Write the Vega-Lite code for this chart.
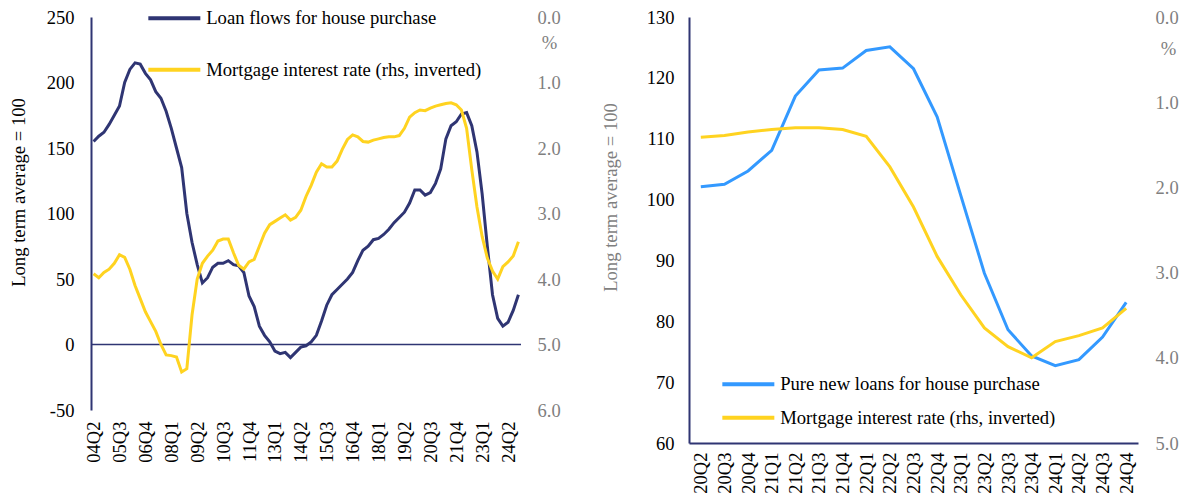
{
  "$schema": "https://vega.github.io/schema/vega-lite/v6.json",
  "padding": {"left": 9, "top": 8, "right": 0, "bottom": 0},
  "background": "white",
  "config": {
    "view": {"stroke": null},
    "font": "Liberation Serif",
    "axis": {"labelFont": "Liberation Serif", "titleFont": "Liberation Serif", "labelFontSize": 18.5, "titleFontSize": 18.67, "titleFontWeight": "normal", "grid": false, "ticks": false, "domain": false, "labelColor": "#000000", "titleColor": "#000000"},
    "legend": {"labelFont": "Liberation Serif", "labelFontSize": 18.67, "labelColor": "#000000", "labelLimit": 600}
  },
  "datasets": {
    "left": [
      {"q":"04Q2","loan":155,"rate":3.92},{"q":"04Q3","loan":159,"rate":3.98},{"q":"04Q4","loan":162,"rate":3.90},{"q":"05Q1","loan":168,"rate":3.85},{"q":"05Q2","loan":175,"rate":3.76},
      {"q":"05Q3","loan":182,"rate":3.63},{"q":"05Q4","loan":200,"rate":3.67},{"q":"06Q1","loan":210,"rate":3.85},{"q":"06Q2","loan":215,"rate":4.10},{"q":"06Q3","loan":214,"rate":4.30},
      {"q":"06Q4","loan":207,"rate":4.50},{"q":"07Q1","loan":202,"rate":4.65},{"q":"07Q2","loan":193,"rate":4.80},{"q":"07Q3","loan":188,"rate":5.00},{"q":"07Q4","loan":178,"rate":5.16},
      {"q":"08Q1","loan":165,"rate":5.17},{"q":"08Q2","loan":150,"rate":5.19},{"q":"08Q3","loan":135,"rate":5.42},{"q":"08Q4","loan":100,"rate":5.37},{"q":"09Q1","loan":78,"rate":4.55},
      {"q":"09Q2","loan":61,"rate":4.00},{"q":"09Q3","loan":47,"rate":3.76},{"q":"09Q4","loan":51,"rate":3.65},{"q":"10Q1","loan":59,"rate":3.56},{"q":"10Q2","loan":62,"rate":3.42},
      {"q":"10Q3","loan":62,"rate":3.39},{"q":"10Q4","loan":64,"rate":3.39},{"q":"11Q1","loan":61,"rate":3.60},{"q":"11Q2","loan":60,"rate":3.79},{"q":"11Q3","loan":55,"rate":3.85},
      {"q":"11Q4","loan":37,"rate":3.74},{"q":"12Q1","loan":29,"rate":3.70},{"q":"12Q2","loan":14,"rate":3.50},{"q":"12Q3","loan":7,"rate":3.30},{"q":"12Q4","loan":2,"rate":3.17},
      {"q":"13Q1","loan":-5,"rate":3.12},{"q":"13Q2","loan":-7,"rate":3.07},{"q":"13Q3","loan":-6,"rate":3.02},{"q":"13Q4","loan":-10,"rate":3.10},{"q":"14Q1","loan":-6,"rate":3.06},
      {"q":"14Q2","loan":-2,"rate":2.95},{"q":"14Q3","loan":-1,"rate":2.74},{"q":"14Q4","loan":2,"rate":2.57},{"q":"15Q1","loan":7,"rate":2.37},{"q":"15Q2","loan":18,"rate":2.24},
      {"q":"15Q3","loan":30,"rate":2.29},{"q":"15Q4","loan":38,"rate":2.29},{"q":"16Q1","loan":42,"rate":2.20},{"q":"16Q2","loan":46,"rate":2.02},{"q":"16Q3","loan":50,"rate":1.87},
      {"q":"16Q4","loan":55,"rate":1.80},{"q":"17Q1","loan":64,"rate":1.83},{"q":"17Q2","loan":72,"rate":1.90},{"q":"17Q3","loan":75,"rate":1.91},{"q":"17Q4","loan":80,"rate":1.88},
      {"q":"18Q1","loan":81,"rate":1.86},{"q":"18Q2","loan":84,"rate":1.84},{"q":"18Q3","loan":88,"rate":1.83},{"q":"18Q4","loan":93,"rate":1.83},{"q":"19Q1","loan":97,"rate":1.81},
      {"q":"19Q2","loan":101,"rate":1.70},{"q":"19Q3","loan":108,"rate":1.53},{"q":"19Q4","loan":118,"rate":1.46},{"q":"20Q1","loan":118,"rate":1.42},{"q":"20Q2","loan":114,"rate":1.43},
      {"q":"20Q3","loan":116,"rate":1.39},{"q":"20Q4","loan":123,"rate":1.36},{"q":"21Q1","loan":134,"rate":1.34},{"q":"21Q2","loan":157,"rate":1.32},{"q":"21Q3","loan":167,"rate":1.31},
      {"q":"21Q4","loan":170,"rate":1.34},{"q":"22Q1","loan":176,"rate":1.42},{"q":"22Q2","loan":177,"rate":1.70},{"q":"22Q3","loan":167,"rate":2.33},{"q":"22Q4","loan":147,"rate":2.90},
      {"q":"23Q1","loan":115,"rate":3.35},{"q":"23Q2","loan":75,"rate":3.68},{"q":"23Q3","loan":38,"rate":3.88},{"q":"23Q4","loan":20,"rate":4.00},{"q":"24Q1","loan":14,"rate":3.81},
      {"q":"24Q2","loan":17,"rate":3.74},{"q":"24Q3","loan":26,"rate":3.65},{"q":"24Q4","loan":38,"rate":3.43}
    ],
    "right": [
      {"q":"20Q2","loans":102.1,"rate":1.41},{"q":"20Q3","loans":102.5,"rate":1.39},{"q":"20Q4","loans":104.7,"rate":1.35},{"q":"21Q1","loans":108.1,"rate":1.32},
      {"q":"21Q2","loans":117.0,"rate":1.30},{"q":"21Q3","loans":121.3,"rate":1.30},{"q":"21Q4","loans":121.6,"rate":1.32},{"q":"22Q1","loans":124.5,"rate":1.40},
      {"q":"22Q2","loans":125.1,"rate":1.76},{"q":"22Q3","loans":121.5,"rate":2.23},{"q":"22Q4","loans":113.6,"rate":2.81},{"q":"23Q1","loans":100.7,"rate":3.26},
      {"q":"23Q2","loans":87.9,"rate":3.65},{"q":"23Q3","loans":78.6,"rate":3.87},{"q":"23Q4","loans":74.3,"rate":4.00},{"q":"24Q1","loans":72.7,"rate":3.81},
      {"q":"24Q2","loans":73.7,"rate":3.74},{"q":"24Q3","loans":77.4,"rate":3.65},{"q":"24Q4","loans":83.1,"rate":3.42}
    ]
  },
  "spacing": 40,
  "resolve": {"scale": {"color": "independent"}, "legend": {"color": "independent"}},
  "hconcat": [
    {
      "width": 430,
      "height": 393,
      "data": {"name": "left"},
      "layer": [
        {
          "layer": [
            {
              "data": {"values": [{"v": 0}]},
              "mark": {"type": "rule", "color": "#2f3573", "strokeWidth": 1.5},
              "encoding": {"y": {"field": "v", "type": "quantitative"}}
            },
            {
              "mark": {"type": "line", "strokeWidth": 3},
              "encoding": {
                "x": {"field": "q", "type": "ordinal", "sort": null, "scale": {"type": "point", "padding": 0.5},
                      "axis": {"title": null, "values": ["04Q2","05Q3","06Q4","08Q1","09Q2","10Q3","11Q4","13Q1","14Q2","15Q3","16Q4","18Q1","19Q2","20Q3","21Q4","23Q1","24Q2"], "labelAngle": -90, "labelPadding": 11}},
                "y": {"field": "loan", "type": "quantitative", "scale": {"domain": [-50, 250], "nice": false, "zero": false},
                      "axis": {"title": "Long term average = 100", "values": [-50, 0, 50, 100, 150, 200, 250], "labelExpr": "'' + datum.value", "labelPadding": 17, "domain": true, "domainColor": "#2f3573", "domainWidth": 2, "titleAngle": -90, "titleX": -73, "titleY": 175, "titleAlign": "center", "titleBaseline": "middle"}},
                "color": {"datum": "Loan flows for house purchase", "type": "nominal",
                          "scale": {"domain": ["Loan flows for house purchase", "Mortgage interest rate (rhs, inverted)"], "range": ["#2f3573", "#ffd320"]},
                          "legend": {"orient": "none", "legendX": 74, "legendY": -8, "title": null, "symbolType": "M-4,0H4", "symbolSize": 169, "symbolStrokeWidth": 4, "labelOffset": 22.5, "rowPadding": 31.5, "padding": 0, "direction": "vertical"}}
              }
            }
          ]
        },
        {
          "mark": {"type": "line", "strokeWidth": 3},
          "encoding": {
            "x": {"field": "q", "type": "ordinal", "sort": null, "scale": {"type": "point", "padding": 0.5}},
            "y": {"field": "rate", "type": "quantitative", "scale": {"domain": [0, 6], "reverse": true, "nice": false, "zero": false},
                  "axis": {"orient": "right", "title": "%", "values": [0, 1, 2, 3, 4, 5, 6], "format": ".1f", "labelColor": "#7f7f7f", "titleColor": "#7f7f7f", "labelPadding": 16, "titleAngle": 0, "titleX": 28, "titleY": 25, "titleAlign": "center", "titleBaseline": "middle"}},
            "color": {"datum": "Mortgage interest rate (rhs, inverted)", "type": "nominal"}
          }
        }
      ],
      "resolve": {"scale": {"y": "independent"}}
    },
    {
      "width": 449,
      "height": 426,
      "data": {"name": "right"},
      "layer": [
        {
          "mark": {"type": "line", "strokeWidth": 3},
          "encoding": {
            "x": {"field": "q", "type": "ordinal", "sort": null, "scale": {"type": "point", "padding": 0.5},
                  "axis": {"title": null, "labelAngle": -90, "labelPadding": 9, "domain": true, "domainColor": "#2f3573", "domainWidth": 2}},
            "y": {"field": "loans", "type": "quantitative", "scale": {"domain": [60, 130], "nice": false, "zero": false},
                  "axis": {"title": "Long term average = 100", "titleColor": "#7f7f7f", "values": [60, 70, 80, 90, 100, 110, 120, 130], "labelPadding": 15, "domain": true, "domainColor": "#2f3573", "domainWidth": 2, "titleAngle": -90, "titleX": -79, "titleY": 180, "titleAlign": "center", "titleBaseline": "middle"}},
            "color": {"datum": "Pure new loans for house purchase", "type": "nominal",
                      "scale": {"domain": ["Pure new loans for house purchase", "Mortgage interest rate (rhs, inverted)"], "range": ["#3399ff", "#ffd320"]},
                      "legend": {"orient": "none", "legendX": 50, "legendY": 358, "title": null, "symbolType": "M-4,0H4", "symbolSize": 169, "symbolStrokeWidth": 4, "labelOffset": 22.5, "rowPadding": 13.5, "padding": 0, "direction": "vertical"}}
          }
        },
        {
          "mark": {"type": "line", "strokeWidth": 3},
          "encoding": {
            "x": {"field": "q", "type": "ordinal", "sort": null, "scale": {"type": "point", "padding": 0.5}},
            "y": {"field": "rate", "type": "quantitative", "scale": {"domain": [0, 5], "reverse": true, "nice": false, "zero": false},
                  "axis": {"orient": "right", "title": "%", "values": [0, 1, 2, 3, 4, 5], "format": ".1f", "labelColor": "#7f7f7f", "titleColor": "#7f7f7f", "labelPadding": 17, "titleAngle": 0, "titleX": 30, "titleY": 31, "titleAlign": "center", "titleBaseline": "middle"}},
            "color": {"datum": "Mortgage interest rate (rhs, inverted)", "type": "nominal"}
          }
        }
      ],
      "resolve": {"scale": {"y": "independent"}}
    }
  ]
}
